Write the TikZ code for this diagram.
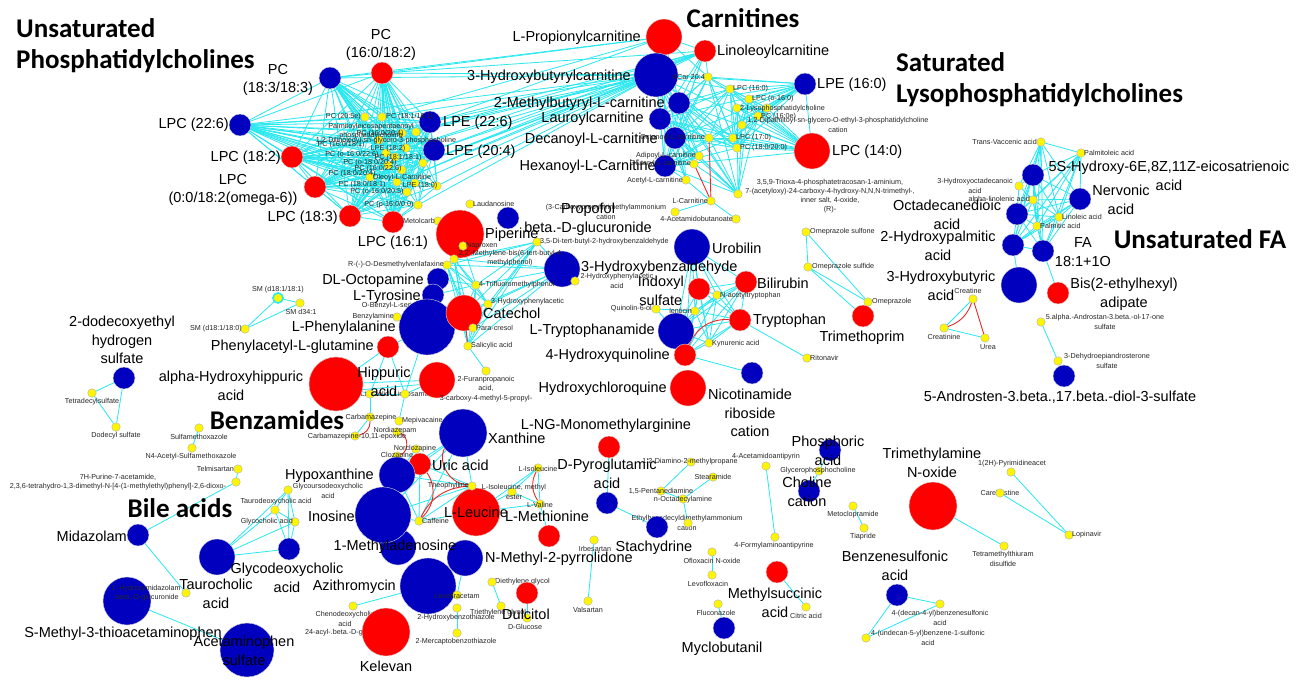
\documentclass[tikz,border=0pt]{standalone}
\usepackage{fontspec}
\setmainfont{Liberation Sans}
\newfontfamily\titlefont{Carlito}
\definecolor{nred}{RGB}{255,0,0}
\definecolor{nblue}{RGB}{0,0,190}
\definecolor{nyel}{RGB}{255,245,0}
\definecolor{ecyan}{RGB}{40,232,240}
\definecolor{ered}{RGB}{235,40,40}
\pgfdeclarelayer{bg}\pgfdeclarelayer{lab}\pgfdeclarelayer{top}
\pgfsetlayers{bg,lab,main,top}
\tikzset{
 nd/.style={circle,inner sep=0pt,outer sep=0pt,draw=black!15,line width=0.4pt},
 B/.style={nd,fill=nblue},
 R/.style={nd,fill=nred},
 Y/.style={nd,fill=nyel,draw=black!30,minimum size=8.5pt},
 big/.style={font=\fontsize{14.5}{18.5}\selectfont,inner sep=0pt,align=center},
 sm/.style={font=\fontsize{7.2}{9.2}\selectfont,inner sep=0pt,align=center,text=black!85},
 ttl/.style={font=\titlefont\bfseries\fontsize{27}{30}\selectfont,inner sep=0pt},
 ed/.style={draw=ecyan,line width=0.8pt},
 redge/.style={draw=ered,line width=0.9pt},
}
\newcommand\NB[3]{\node[B,minimum size=#3pt](#1)at(#2){};}
\newcommand\NR[3]{\node[R,minimum size=#3pt](#1)at(#2){};}
\newcommand\NY[2]{\node[Y](#1)at(#2){};}
\newcommand\LB[4][center]{\begin{pgfonlayer}{top}\node[big,anchor=#1](#2-l)at(#3){#4};\end{pgfonlayer}}
\newcommand\LS[4][center]{\begin{pgfonlayer}{top}\node[sm,anchor=#1](#2-l)at(#3){#4};\end{pgfonlayer}}
\newcommand\LH[4][center]{\begin{pgfonlayer}{lab}\node[sm,anchor=#1](#2-l)at(#3){#4};\end{pgfonlayer}}
\newcommand\clique[2][ed]{\foreach \a [count=\i] in {#2}{\foreach \b [count=\j] in {#2}{\ifnum\i<\j\relax\draw[#1](\a)--(\b);\fi}}}
\newcommand\cross[3][ed]{\foreach \a in {#2}{\foreach \b in {#3}{\draw[#1](\a)--(\b);}}}
\begin{document}
\begin{tikzpicture}[x=1pt,y=-1pt]
\useasboundingbox (0,0) rectangle (1306,680);
\begin{pgfonlayer}{bg}\fill[white](0,0) rectangle (1306,680);\end{pgfonlayer}
% ---------------- titles
\begin{pgfonlayer}{top}
\node[ttl,anchor=west] (t1) at (16,28) {Unsaturated};
\node[ttl,anchor=west] (t2) at (16,61) {Phosphatidylcholines};
\node[ttl] (t3) at (743,18) {Carnitines};
\node[ttl,anchor=west] (t4) at (896,62) {Saturated};
\node[ttl,anchor=west] (t5) at (896,95) {Lysophosphatidylcholines};
\node[ttl] (t6) at (1200,239) {Unsaturated FA};
\node[ttl] (t7) at (277,420) {Benzamides};
\node[ttl] (t8) at (180,508) {Bile acids};
\end{pgfonlayer}
% ---------------- hidden nodes first
\NY{obs}{422,306}
\NY{acylg}{372,633}
\NY{metol}{438,221}
\NB{madn}{398,547}{36}
\NR{ahip}{336,384}{54}
% ---------------- PC cluster
\NB{pc1833}{330,78}{22}
\NR{pc160}{382,73}{22}
\NB{lpc226}{240,125}{22}
\NR{lpc182}{292,157}{22}
\NR{lpc00}{315,187}{22}
\NR{lpc183}{350,216}{22}
\NR{lpc161}{393,222}{22}
\NB{lpe226}{430,122}{22}
\NB{lpe204}{434,150}{22}
\NY{p1}{365,117}\NY{p2}{382,117}\NY{p3}{416,132}\NY{p4}{402,133}\NY{p5}{379,140}
\NY{p6}{406,148}\NY{p7}{386,153}\NY{p8}{395,157}\NY{p9}{423,163}\NY{p10}{388,165}
\NY{p11}{402,170}\NY{p12}{370,177}\NY{p13}{397,182}\NY{p14}{415,183}\NY{p15}{437,186}
\NY{p16}{407,192}\NY{p17}{418,205}
\LS[east]{p1}{361,117}{PC (20:5e)}
\LS[west]{p2}{386,117}{PC (18:1/16:1)}
\LS{p3}{371,131}{Palmitoyleicosapentaenoyl\\phosphatidylcholine}
\LS{p4}{380,134}{PC (16:0/20:4)}
\LS{p5}{386,141}{1,2-Dilinoleoyl-sn-glycero-3-phosphocholine}
\LS{p6}{341,145}{PC (16:0/18:1)}
\LS{p7}{388,149}{LPE (18:2)}
\LS{p8}{352,155}{PC (o-16:0/22:6)}
\LS{p9}{398,158}{PC (18:1/18:1)}
\LS{p10}{370,163}{PC (o-18:0/20:4)}
\LS{p11}{378,169}{PC (16:0/22:6)}
\LS{p12}{352,174}{PC (18:0/20:4)}
\LS{p13}{402,178}{Oleoyl-L-Carnitine}
\LS{p14}{420,186}{LPE (18:0)}
\LS{p15}{362,185}{PC (18:0/18:1)}
\LS{p16}{377,192}{PC (o-16:0/20:5)}
\LS{p17}{389,205}{PC (p-16:0/0:0)}
\LB{pc1833}{278,80}{PC\\(18:3/18:3)}
\LB{pc160}{381,45}{PC\\(16:0/18:2)}
\LB[east]{lpc226}{229,125}{LPC (22:6)}
\LB[east]{lpc182}{281,158}{LPC (18:2)}
\LB{lpc00}{233,190}{LPC\\(0:0/18:2(omega-6))}
\LB[east]{lpc183}{338,218}{LPC (18:3)}
\LB{lpc161}{393,243}{LPC (16:1)}
\LB[west]{lpe226}{443,123}{LPE (22:6)}
\LB[west]{lpe204}{446,152}{LPE (20:4)}
% ---------------- carnitines
\NR{lpropc}{664,37}{36}
\NR{linoc}{705,51}{22}
\NB{hbc}{656,75}{44}
\NB{mbc}{679,103}{22}
\NB{lauc}{660,119}{22}
\NB{decc}{675,138}{22}
\NB{hexc}{665,166}{22}
\NB{lpe160}{805,84}{22}
\NR{lpc140}{812,151}{36}
\NY{acar}{708,77}\NY{lpc160y}{730,89}\NY{lpco16}{749,99}\NY{lyso2}{737,108}\NY{lysoX}{767,108}
\NY{pc160e}{758,116}\NY{dipalm}{742,125}\NY{lpc170}{733,138}\NY{pc18020}{737,148}
\NY{ibc}{709,138}\NY{adip}{699,156}\NY{octc}{694,164}\NY{acetc}{686,180}\NY{lcarn}{711,201}
\NY{cpta}{675,212}\NY{acb}{736,219}\NY{trioxa}{738,194}
\LB[east]{lpropc}{641,38}{L-Propionylcarnitine}
\LB[west]{linoc}{717,52}{Linoleoylcarnitine}
\LB[east]{hbc}{631,77}{3-Hydroxybutyrylcarnitine}
\LB[east]{mbc}{665,104}{2-Methylbutyryl-L-carnitine}
\LB[east]{lauc}{644,119}{Lauroylcarnitine}
\LB[east]{decc}{658,140}{Decanoyl-L-carnitine}
\LB[east]{hexc}{656,167}{Hexanoyl-L-Carnitine}
\LB[west]{lpe160}{817,85}{LPE (16:0)}
\LB[west]{lpc140}{832,152}{LPC (14:0)}
\LS[east]{acar}{705,77}{ACar 20:4}
\LS[west]{lpc160y}{733,89}{LPC (16:0)}
\LS[west]{lpco16}{752,99}{LPC (o-16:0)}
\LS[west]{lyso2}{740,109}{2-Lysophosphatidylcholine}
\LS[west]{pc160e}{761,117}{PC (16:0e)}
\LS{dipalm}{838,125}{1,2-Dipalmitoyl-sn-glycero-O-ethyl-3-phosphatidylcholine\\cation}
\LS[west]{lpc170}{736,138}{LPC (17:0)}
\LS[west]{pc18020}{740,148}{PC (18:0/20:0)}
\LS[east]{ibc}{705,138}{Octanoyl-L-carnitine}
\LS[east]{adip}{696,156}{Adipoyl-L-carnitine}
\LS[east]{octc}{691,164}{Glutaryl-L-carnitine}
\LS[east]{acetc}{683,181}{Acetyl-L-carnitine}
\LS[east]{lcarn}{708,201}{L-Carnitine}
\LH{cpta}{606,212}{(3-Carboxypropyl)trimethylammonium\\cation}
\LS[east]{acb}{733,219}{4-Acetamidobutanoate}
\LS{trioxa}{830,196}{3,5,9-Trioxa-4-phosphatetracosan-1-aminium,\\7-(acetyloxy)-24-carboxy-4-hydroxy-N,N,N-trimethyl-,\\inner salt, 4-oxide,\\(R)-}
% ---------------- unsaturated FA
\NB{hete}{1033,175}{22}
\NB{nerv}{1080,199}{22}
\NB{octd}{1017,214}{22}
\NB{hpalm}{1013,245}{22}
\NB{fa181}{1043,251}{22}
\NB{hbut}{1019,285}{36}
\NR{bis}{1058,293}{22}
\NB{adiol}{1064,376}{22}
\NY{tva}{1041,142}\NY{pola}{1081,153}\NY{hoda}{1019,186}\NY{ala}{1033,200}
\NY{lina}{1059,217}\NY{palm}{1037,226}\NY{andros}{1041,322}\NY{dhea}{1058,361}
\LS[east]{tva}{1037,142}{Trans-Vaccenic acid}
\LS[west]{pola}{1084,153}{Palmitoleic acid}
\LS{hoda}{975,186}{3-Hydroxyoctadecanoic\\acid}
\LS[east]{ala}{1030,200}{alpha-linolenic acid}
\LS[west]{lina}{1062,217}{Linoleic acid}
\LS[west]{palm}{1040,226}{Palmitic acid}
\LS{andros}{1105,322}{5.alpha.-Androstan-3.beta.-ol-17-one\\sulfate}
\LS{dhea}{1107,361}{3-Dehydroepiandrosterone\\sulfate}
\LB{hete}{1169,176}{5S-Hydroxy-6E,8Z,11Z-eicosatrienoic\\acid}
\LB{nerv}{1121,200}{Nervonic\\acid}
\LB{octd}{947,215}{Octadecanedioic\\acid}
\LB{hpalm}{938,246}{2-Hydroxypalmitic\\acid}
\LB{fa181}{1083,252}{FA\\18:1+1O}
\LB{hbut}{941,286}{3-Hydroxybutyric\\acid}
\LB{bis}{1124,294}{Bis(2-ethylhexyl)\\adipate}
\LB{adiol}{1060,397}{5-Androsten-3.beta.,17.beta.-diol-3-sulfate}
% ---------------- creatine, omeprazole
\NY{creat}{973,299}\NY{creatn}{944,328}\NY{urea}{985,338}
\LS{creat}{968,291}{Creatine}
\LS{creatn}{944,337}{Creatinine}
\LS{urea}{988,347}{Urea}
\NR{trimp}{863,316}{22}
\NY{omes}{806,232}\NY{omesd}{808,267}\NY{omep}{868,302}
\LS[west]{omes}{810,232}{Omeprazole sulfone}
\LS[west]{omesd}{812,267}{Omeprazole sulfide}
\LS[west]{omep}{872,302}{Omeprazole}
\LB{trimp}{862,338}{Trimethoprim}
% ---------------- tryptophan
\NB{urob}{692,247}{36}
\NB{hbz}{562,269}{36}
\NR{indox}{699,289}{22}
\NR{bili}{746,282}{22}
\NR{trp}{740,320}{22}
\NB{trpa}{676,331}{36}
\NR{hq}{685,355}{22}
\NB{nicr}{752,373}{22}
\NR{hcq}{688,388}{36}
\NY{natrp}{717,295}\NY{quin}{656,309}\NY{lent}{695,311}\NY{kyn}{709,343}\NY{rito}{807,358}
\LS[west]{natrp}{720,296}{N-acetyltryptophan}
\LS[east]{quin}{652,309}{Quinolin-6-ol}
\LS[east]{lent}{692,311}{lenticin}
\LS[west]{kyn}{712,344}{Kynurenic acid}
\LS[west]{rito}{810,358}{Ritonavir}
\LB[west]{urob}{712,248}{Urobilin}
\LB[west]{hbz}{581,268}{3-Hydroxybenzaldehyde}
\LB[east]{indox}{684,291}{Indoxyl\\sulfate}
\LB[west]{bili}{757,283}{Bilirubin}
\LB[west]{trp}{753,321}{Tryptophan}
\LB[east]{trpa}{655,331}{L-Tryptophanamide}
\LB[east]{hq}{670,356}{4-Hydroxyquinoline}
\LB{nicr}{750,413}{Nicotinamide\\riboside\\cation}
\LB[east]{hcq}{667,389}{Hydroxychloroquine}
% ---------------- phenyl cluster
\NB{prop}{508,218}{22}
\NR{pip}{460,234}{48}
\NB{octo}{438,279}{22}
\NB{tyr}{433,295}{22}
\NB{phe}{427,327}{56}
\NR{cat}{464,313}{36}
\NR{pag}{388,347}{22}
\NR{hip}{336,384}{54}
\NR{cmpf}{437,380}{36}
\NY{laud}{470,204}\NY{napr}{463,246}\NY{mbp}{454,259}\NY{dtb}{537,242}
\NY{odv}{447,265}\NY{tfmp}{476,285}\NY{hpaa2}{575,281}\NY{hpaa3}{488,304}\NY{bzam}{397,317}
\NY{pcres}{473,328}\NY{sal}{468,346}\NY{uny}{486,371}
\LS[west]{laud}{473,204}{Laudanosine}
\LS[east]{metol}{435,221}{Metolcarb}
\LS[west]{napr}{466,246}{Naproxen}
\LS{mbp}{510,258}{2,2'-Methylene-bis(6-tert-butyl-4\\methylphenol)}
\LS[west]{dtb}{540,242}{3,5-Di-tert-butyl-2-hydroxybenzaldehyde}
\LS[east]{odv}{444,265}{R-(-)-O-Desmethylvenlafaxine}
\LS[west]{tfmp}{479,285}{4-Trifluoromethylphenol}
\LS{hpaa2}{617,281}{2-Hydroxyphenylacetic\\acid}
\LS[west]{hpaa3}{491,302}{3-Hydroxyphenylacetic}
\LH[east]{obs}{420,306}{O-Benzyl-L-serine}
\LS[east]{bzam}{394,317}{Benzylamine}
\LS[west]{pcres}{476,328}{Para-cresol}
\LS[west]{sal}{471,346}{Salicylic acid}
\LB{prop}{588,219}{Propofol\\beta.-D-glucuronide}
\LB[west]{pip}{485,235}{Piperine}
\LB[east]{octo}{424,281}{DL-Octopamine}
\LB[east]{tyr}{421,297}{L-Tyrosine}
\LB[east]{phe}{396,328}{L-Phenylalanine}
\LB[west]{cat}{483,313}{Catechol}
\LB[east]{pag}{374,347}{Phenylacetyl-L-glutamine}
\LB{ahip}{231,386}{alpha-Hydroxyhippuric\\acid}
\LB{hip}{384,382}{Hippuric\\acid}
\LS{cmpf}{486,389}{2-Furanpropanoic\\acid,\\3-carboxy-4-methyl-5-propyl-}
% ---------------- benzamides / xanthine
\NY{linz}{370,394}\NY{linz2}{405,394}\NY{carb}{370,417}\NY{mepi}{399,421}\NY{nord}{397,432}
\NY{cepox}{355,436}\NY{nclz}{416,449}\NY{clz}{397,456}
\LH{linz}{375,394}{Linezolid}
\LH{linz2}{414,394}{Lincosamide}
\LS{carb}{371,418}{Carbamazepine}
\LS[west]{mepi}{402,421}{Mepivacaine}
\LS{nord}{395,431}{Nordiazepam}
\LS{cepox}{357,437}{Carbamazepine-10,11-epoxide}
\LS{nclz}{415,449}{Norclozapine}
\LS{clz}{397,456}{Clozapine}
\NB{xan}{463,433}{48}
\NR{uric}{420,464}{22}
\NB{hyp}{397,475}{36}
\NB{ino}{383,515}{56}
\NR{leu}{476,512}{48}
\NR{met}{549,536}{22}
\NB{nmp}{465,558}{36}
\NB{azi}{428,586}{56}
\NR{dulc}{527,593}{22}
\NR{kel}{386,632}{48}
\NY{theo}{472,486}\NY{caf}{419,521}\NY{ile}{538,468}\NY{ileme}{512,492}\NY{val}{540,504}
\NY{leve}{457,595}\NY{deg}{492,582}\NY{teg}{501,606}\NY{dglc}{527,618}\NY{hbt}{457,608}
\NY{mbt}{457,633}\NY{cdca}{353,606}
\LS[east]{theo}{469,486}{Theophylline}
\LS[west]{caf}{422,521}{Caffeine}
\LS{ile}{538,469}{L-Isoleucine}
\LS{ileme}{514,492}{L-Isoleucine, methyl\\ester}
\LS{val}{540,505}{L-Valine}
\LS{leve}{457,596}{Levetiracetam}
\LH[west]{deg}{495,582}{Diethylene glycol}
\LS{teg}{498,613}{Triethylene glycol}
\LS{dglc}{525,627}{D-Glucose}
\LS{hbt}{456,618}{2-Hydroxybenzothiazole}
\LS{mbt}{456,642}{2-Mercaptobenzothiazole}
\LH{cdca}{345,619}{Chenodeoxycholic\\acid}
\LH[west]{acylg}{305,633}{24-acyl-.beta.-D-glucuronide}
\LB[west]{xan}{488,438}{Xanthine}
\LB[west]{uric}{432,465}{Uric acid}
\LB[east]{hyp}{374,476}{Hypoxanthine}
\LB[east]{ino}{355,516}{Inosine}
\LB{leu}{476,512}{L-Leucine}
\LB{met}{547,516}{L-Methionine}
\LB{madn}{395,547}{1-Methyladenosine}
\LB[west]{nmp}{485,559}{N-Methyl-2-pyrrolidone}
\LB[east]{azi}{396,587}{Azithromycin}
\LB{dulc}{526,614}{Dulcitol}
\LB{kel}{386,666}{Kelevan}
% ---------------- left side
\node[Y,draw=ecyan,line width=1.6pt,minimum size=10pt] (smA) at (278,298) {};
\NY{smB}{300,303}\NY{smC}{245,329}
\LS{smA}{278,290}{SM (d18:1/18:1)}
\LS{smB}{301,312}{SM d34:1}
\LS[east]{smC}{242,329}{SM (d18:1/18:0)}
\NB{dhs}{124,378}{22}
\NY{tds}{92,393}\NY{dds}{116,427}\NY{smx}{199,428}\NY{asmx}{192,448}\NY{telm}{238,469}\NY{purine}{236,482}
\LB{dhs}{122,340}{2-dodecoxyethyl\\hydrogen\\sulfate}
\LS{tds}{92,402}{Tetradecylsulfate}
\LS{dds}{116,436}{Dodecyl sulfate}
\LS{smx}{199,437}{Sulfamethoxazole}
\LS{asmx}{191,457}{N4-Acetyl-Sulfamethoxazole}
\LS[east]{telm}{234,469}{Telmisartan}
\LS{purine}{118,482}{7H-Purine-7-acetamide,\\2,3,6-tetrahydro-1,3-dimethyl-N-[4-(1-methylethyl)phenyl]-2,6-dioxo-}
\NB{mida}{138,535}{22}
\NB{smta}{127,601}{48}
\NB{tca}{217,557}{36}
\NB{gdca}{289,549}{22}
\NB{acs}{247,650}{54}
\NY{hmg}{186,593}\NY{gudca}{288,490}\NY{tdca}{275,510}\NY{gca}{295,522}
\LS{hmg}{146,593}{1'-Hydroxymidazolam\\.beta.-D-glucuronide}
\LS{gudca}{328,491}{Glycoursodeoxycholic\\acid}
\LS{tdca}{276,502}{Taurodeoxycholic acid}
\LS[east]{gca}{293,522}{Glycocholic acid}
\LB[east]{mida}{127,536}{Midazolam}
\LB{smta}{123,634}{S-Methyl-3-thioacetaminophen}
\LB{tca}{216,594}{Taurocholic\\acid}
\LB{gdca}{287,578}{Glycodeoxycholic\\acid}
\LB{acs}{244,651}{Acetaminophen\\sulfate}
% ---------------- bottom middle / right
\NR{lngm}{609,447}{22}
\NB{pyro}{607,503}{22}
\NB{stach}{657,527}{22}
\NB{myclo}{724,628}{22}
\NR{msa}{777,572}{22}
\NB{phos}{830,450}{22}
\NB{chol}{809,491}{22}
\NR{tmao}{933,506}{48}
\NB{bsa}{897,595}{22}
\NY{irb}{594,540}\NY{vals}{588,601}\NY{dmp}{691,462}\NY{stear}{713,477}\NY{pent}{661,491}
\NY{ocda}{683,499}\NY{ehda}{688,523}\NY{aaa}{766,466}\NY{faa}{775,537}\NY{oflo}{712,552}
\NY{levo}{712,575}\NY{fluc}{718,604}\NY{cit}{806,607}\NY{gpc}{819,471}\NY{mcp}{853,506}
\NY{tiap}{864,528}\NY{tmtd}{1004,546}\NY{pyrim}{1011,472}\NY{careb}{1000,493}\NY{lopi}{1069,535}
\NY{dbs}{940,604}\NY{ubs}{866,638}
\LS{irb}{595,549}{Irbesartan}
\LS{vals}{588,610}{Valsartan}
\LS{dmp}{690,462}{1,2-Diamino-2-methylpropane}
\LS{stear}{713,477}{Stearamide}
\LS{pent}{661,491}{1,5-Pentanediamine}
\LS{ocda}{683,500}{n-Octadecylamine}
\LH{ehda}{687,523}{Ethylhexadecyldimethylammonium\\cation}
\LS{aaa}{766,457}{4-Acetamidoantipyrin}
\LS{faa}{774,546}{4-Formylaminoantipyrine}
\LS{oflo}{712,561}{Ofloxacin N-oxide}
\LS{levo}{708,584}{Levofloxacin}
\LS{fluc}{716,613}{Fluconazole}
\LS{cit}{806,616}{Citric acid}
\LS{gpc}{818,471}{Glycerophosphocholine}
\LS{mcp}{853,515}{Metoclopramide}
\LS{tiap}{863,537}{Tiapride}
\LS{tmtd}{1003,559}{Tetramethylthiuram\\disulfide}
\LS{pyrim}{1012,464}{1(2H)-Pyrimidineacet}
\LH{careb}{1000,493}{Carebastine}
\LS[west]{lopi}{1072,535}{Lopinavir}
\LS{dbs}{940,618}{4-(decan-4-yl)benzenesulfonic\\acid}
\LS{ubs}{928,638}{4-(undecan-5-yl)benzene-1-sulfonic\\acid}
\LB{lngm}{606,426}{L-NG-Monomethylarginine}
\LB{pyro}{607,474}{D-Pyroglutamic\\acid}
\LB{stach}{654,548}{Stachydrine}
\LB{myclo}{722,649}{Myclobutanil}
\LB{msa}{775,603}{Methylsuccinic\\acid}
\LB{phos}{828,451}{Phosphoric\\acid}
\LB{chol}{807,492}{Choline\\cation}
\LB{tmao}{932,463}{Trimethylamine\\N-oxide}
\LB{bsa}{895,566}{Benzenesulfonic\\acid}
% ================= edges
\begin{pgfonlayer}{bg}
\cross{pc1833,pc160,lpc226,lpc182,lpc00,lpc183,lpc161,lpe226,lpe204}{p1,p2,p3,p4,p5,p6,p7,p8,p9,p10,p11,p12,p13,p14,p15,p16,p17}
\clique{pc1833,pc160,lpc226,lpc182,lpc00,lpc183,lpc161,lpe226,lpe204}
\cross{pc1833,pc160,lpc226,lpe226,lpe204,p2,p3,p4,p6,p9,p11,p13,p14,p15,p17}{hbc}
\cross{pc160,pc1833,lpe226,p2}{lpropc}
\cross{pc160,lpe226,lpe204,p3,p6,p9,p13}{linoc}
\clique{lpropc,hbc,linoc,mbc,lauc,decc,hexc}
\clique{lpc160y,lpco16,lyso2,lysoX,pc160e,dipalm,lpc170,pc18020,lpe160,lpc140}
\cross{hbc,mbc,lauc,decc,hexc,acar,ibc}{lpc160y,lpc170,pc18020,lpc140,trioxa,lpe160}
\cross{hbc,mbc,lauc,decc,hexc}{acar,ibc,adip,octc,acetc}
\cross{trioxa}{adip,octc,lpco16,lyso2,dipalm,pc160e}
\foreach \a/\b in {lcarn/acetc,lcarn/cpta,lcarn/acb,acar/linoc,acar/lpropc}\draw[ed](\a)--(\b);
\draw[redge](ibc)--(lcarn); \draw[redge](octc)--(lcarn);
\clique{tva,pola,hete,ala,nerv,lina,octd,palm,hpalm,fa181}
\cross{hoda}{hete,ala,octd,tva}
\foreach \a/\b in {hpalm/hbut,fa181/bis,andros/dhea,creat/creatn,creatn/urea,omes/omesd,omes/omep,omesd/omep,omesd/trimp}\draw[ed](\a)--(\b);
\draw[redge](creat)--(urea); \draw[redge](creat) to[bend left=25] (creatn);
\clique{urob,indox,bili,natrp,lent,trp,trpa,kyn,hq}
\foreach \a/\b in {quin/lent,quin/trpa,trp/rito,hq/nicr}\draw[ed](\a)--(\b);
\draw[redge](hq) to[bend left=35] (trp);
\clique{odv,mbp,tfmp,hpaa3,cat,pcres,sal,dtb,hbz}
\cross{octo,tyr}{odv,tfmp}
\foreach \a/\b in {napr/tfmp,hpaa2/hbz,sal/uny,pag/phe,pag/hip,pag/linz,pag/linz2,phe/linz2,hip/cmpf,hip/linz,linz/linz2,linz2/cmpf,linz2/mepi,linz/carb,carb/cepox}\draw[ed](\a)--(\b);
\draw[ed] (hip.-12) -- (cmpf.195);
\draw[redge](cat)--(sal);
\draw[redge](carb) to[bend left=40] (cepox);
\draw[redge](nord) to[bend left=70] (clz);
\clique{hyp,uric,theo,ino,caf,xan}
\foreach \a/\b in {clz/hyp,nclz/hyp,clz/ino,nclz/uric,theo/leu,caf/leu}\draw[ed](\a)--(\b);
\draw[redge](xan) to[bend right=60] (theo);
\draw[redge](caf) to[bend right=40] (uric);
\draw[redge](caf) to[bend left=30] (theo);
\clique{ile,ileme,val}
\foreach \a/\b in {ileme/leu,val/leu,ile/leu,val/met}\draw[ed](\a)--(\b);
\draw[redge](ile) to[bend right=30] (val);
\clique{gudca,tdca,gca,tca,gdca}
\foreach \a/\b in {telm/purine,purine/mida,mida/hmg,smta/acs,smA/smB,smA/smC,smB/smC,dhs/tds,dhs/dds,tds/dds,smx/asmx}\draw[ed](\a)--(\b);
\foreach \a/\b in {lngm/pyro,pyro/stach,dmp/pent,pent/ocda,stear/ocda,ocda/ehda,aaa/faa,oflo/levo,fluc/myclo,msa/cit,phos/gpc,gpc/chol,mcp/tiap,tmao/tmtd,pyrim/lopi,careb/lopi,bsa/dbs,bsa/ubs,dbs/ubs,irb/vals,deg/teg,dulc/dglc,hbt/mbt,nmp/leve,azi/cdca}\draw[ed](\a)--(\b);
\end{pgfonlayer}
\end{tikzpicture}
\end{document}
